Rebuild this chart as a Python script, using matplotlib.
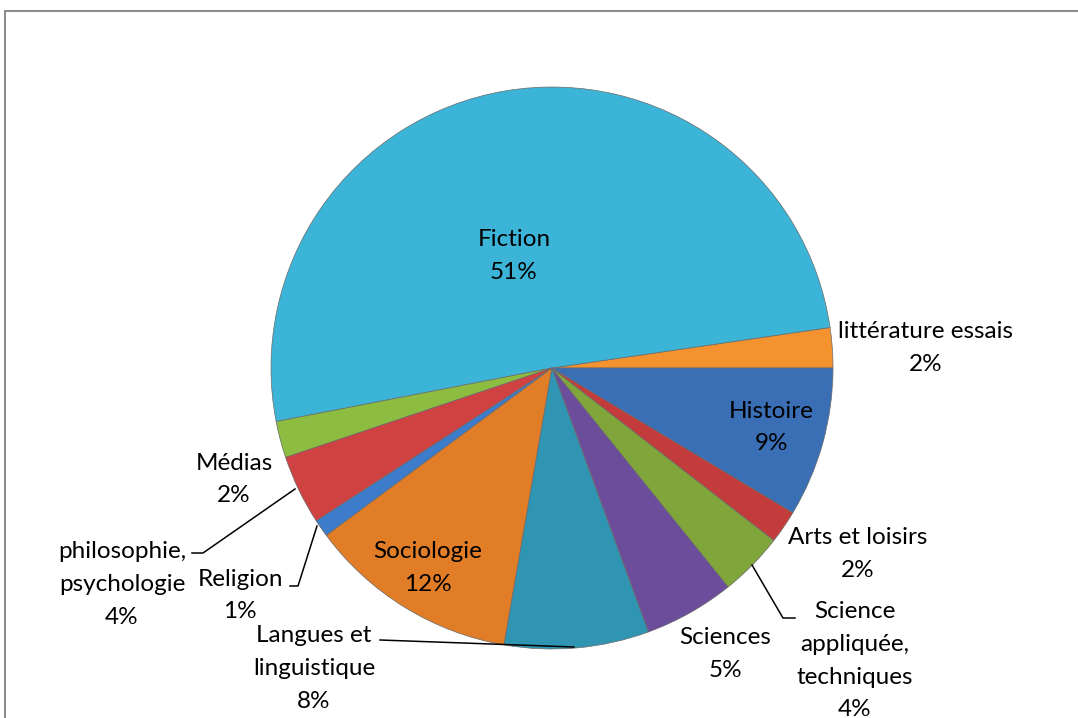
#!/usr/bin/env python3
"""Camembert : répartition des prêts par catégorie."""

import matplotlib
matplotlib.use("Agg")
import matplotlib.pyplot as plt
from matplotlib.patches import Rectangle

W, H = 1078, 718

# ---- Données -------------------------------------------------------------
# ordre anti-horaire à partir de 3 heures
categories = [
    "littérature essais", "Fiction", "Médias", "philosophie,\npsychologie",
    "Religion", "Sociologie", "Langues et\nlinguistique", "Sciences",
    "Science\nappliquée,\ntechniques", "Arts et loisirs", "Histoire",
]
values = [2.3, 50.7, 2.1, 4.0, 1.0, 12.1, 8.3, 5.2, 3.7, 1.9, 8.6]
colors = [
    "#F3922F", "#3BB4D8", "#8CBD40", "#D04242", "#3C7CCB", "#E27D27",
    "#2F95B2", "#6C4D9C", "#80A53B", "#C43B3B", "#3A6FB6",
]

# positions des étiquettes (pixels image : centre x, y de la 1re ligne)
label_pos = [
    (926, 332), (514, 240), (234, 463), (122, 552), (240, 579), (428, 552),
    (314, 636), (725, 638), (855, 612), (858, 538), (771, 411),
]
# lignes de rappel (pixels image)
leaders = {
    3: [(192, 553), (203, 553), (295, 489)],
    4: [(290, 586), (298, 586), (317, 526)],
    6: [(380, 640), (574, 647)],
    8: [(795, 618), (783, 618), (752, 565)],
}

plt.rcParams["font.family"] = ["Lato", "DejaVu Sans"]

fig = plt.figure(figsize=(W / 100, H / 100), dpi=100)
ax = fig.add_axes([0, 0, 1, 1])

cx, cy, r = 552, H - 368, 281
wedges, _ = ax.pie(
    values,
    colors=colors,
    startangle=0,
    counterclock=True,
    center=(cx, cy),
    radius=r,
    wedgeprops=dict(edgecolor="#6a6a6a", linewidth=0.5),
)
ax.set_xlim(0, W)
ax.set_ylim(0, H)
ax.set_aspect("equal")
ax.axis("off")

LINE = 32.5
for name, val, (x, y) in zip(categories, values, label_pos):
    lines = name.split("\n") + [f"{round(val):d}%"]
    for i, txt in enumerate(lines):
        ax.text(x, H - (y + i * LINE), txt, ha="center", va="center",
                fontsize=17.5, color="black")

for pts in leaders.values():
    xs = [p[0] for p in pts]
    ys = [H - p[1] for p in pts]
    ax.plot(xs, ys, color="black", linewidth=1.1)

# cadre de la zone de graphique (coupé à droite et en bas)
ax.add_patch(Rectangle((4.5, -20), W + 20, H - 10.5 + 20, fill=False,
                       edgecolor="#8c8c8c", linewidth=1.5, clip_on=False))

fig.savefig("out.png", dpi=100)
